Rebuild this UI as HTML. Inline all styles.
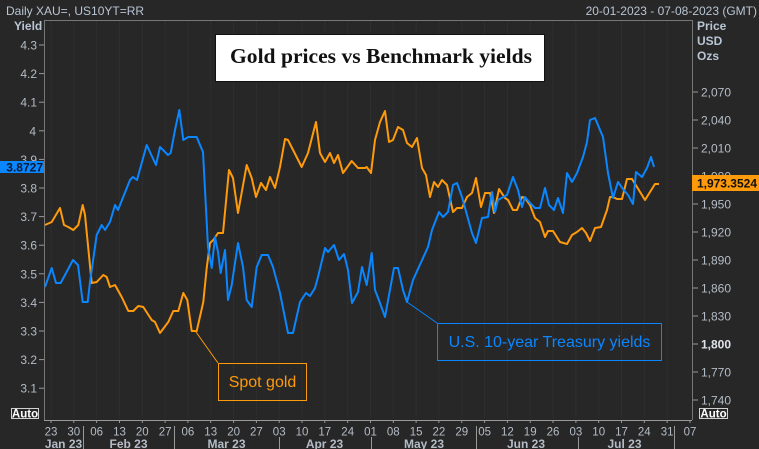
<!DOCTYPE html>
<html><head><meta charset="utf-8"><style>
html,body{margin:0;padding:0;background:#272727;}
svg{display:block;}
text{font-family:"Liberation Sans",Arial,sans-serif;}
</style></head><body>
<svg width="759" height="449" viewBox="0 0 759 449" xmlns="http://www.w3.org/2000/svg">
<rect x="0" y="0" width="759" height="449" fill="#272727"/>
<!-- weekly gridlines -->
<g stroke="#363636" stroke-width="1" stroke-dasharray="1,1">
<line x1="51" y1="21" x2="51" y2="419"/><line x1="73.8" y1="21" x2="73.8" y2="419"/><line x1="96.6" y1="21" x2="96.6" y2="419"/><line x1="119.5" y1="21" x2="119.5" y2="419"/><line x1="142.3" y1="21" x2="142.3" y2="419"/><line x1="165.1" y1="21" x2="165.1" y2="419"/><line x1="187.9" y1="21" x2="187.9" y2="419"/><line x1="210.7" y1="21" x2="210.7" y2="419"/><line x1="233.6" y1="21" x2="233.6" y2="419"/><line x1="256.4" y1="21" x2="256.4" y2="419"/><line x1="279.2" y1="21" x2="279.2" y2="419"/><line x1="302" y1="21" x2="302" y2="419"/><line x1="324.8" y1="21" x2="324.8" y2="419"/><line x1="347.7" y1="21" x2="347.7" y2="419"/><line x1="370.5" y1="21" x2="370.5" y2="419"/><line x1="393.3" y1="21" x2="393.3" y2="419"/><line x1="416.1" y1="21" x2="416.1" y2="419"/><line x1="438.9" y1="21" x2="438.9" y2="419"/><line x1="461.8" y1="21" x2="461.8" y2="419"/><line x1="484.6" y1="21" x2="484.6" y2="419"/><line x1="507.4" y1="21" x2="507.4" y2="419"/><line x1="530.2" y1="21" x2="530.2" y2="419"/><line x1="553" y1="21" x2="553" y2="419"/><line x1="575.9" y1="21" x2="575.9" y2="419"/><line x1="598.7" y1="21" x2="598.7" y2="419"/><line x1="621.5" y1="21" x2="621.5" y2="419"/><line x1="644.3" y1="21" x2="644.3" y2="419"/><line x1="667.1" y1="21" x2="667.1" y2="419"/>
</g>
<!-- frame -->
<g stroke="#777" stroke-width="1" fill="none">
<line x1="44" y1="20.5" x2="692" y2="20.5"/>
<line x1="44.5" y1="20" x2="44.5" y2="420"/>
<line x1="692.5" y1="20" x2="692.5" y2="420"/>
</g>
<line x1="44" y1="420.5" x2="692" y2="420.5" stroke="#999" stroke-width="1"/>

<!-- header -->
<text x="6" y="15" font-size="12" fill="#b9c5d4">Daily XAU=, US10YT=RR</text>
<text x="757" y="15" font-size="12" fill="#b9c5d4" text-anchor="end">20-01-2023 - 07-08-2023 (GMT)</text>
<text x="14" y="30" font-size="12" font-weight="bold" fill="#b9c5d4">Yield</text>
<text x="697" y="30" font-size="12" font-weight="bold" fill="#b9c5d4">Price</text>
<text x="697" y="45" font-size="12" font-weight="bold" fill="#b9c5d4">USD</text>
<text x="697" y="60" font-size="12" font-weight="bold" fill="#b9c5d4">Ozs</text>

<!-- left axis -->
<g stroke="#999" stroke-width="1">
<line x1="39" y1="45" x2="44" y2="45"/><line x1="39" y1="73.6" x2="44" y2="73.6"/><line x1="39" y1="102.2" x2="44" y2="102.2"/><line x1="39" y1="130.8" x2="44" y2="130.8"/><line x1="39" y1="159.4" x2="44" y2="159.4"/><line x1="39" y1="188" x2="44" y2="188"/><line x1="39" y1="216.6" x2="44" y2="216.6"/><line x1="39" y1="245.2" x2="44" y2="245.2"/><line x1="39" y1="273.8" x2="44" y2="273.8"/><line x1="39" y1="302.4" x2="44" y2="302.4"/><line x1="39" y1="331" x2="44" y2="331"/><line x1="39" y1="359.6" x2="44" y2="359.6"/><line x1="39" y1="388.2" x2="44" y2="388.2"/>
</g>
<g font-size="12" fill="#b4bcc6" text-anchor="end">
<text x="37" y="49.5">4.3</text><text x="37" y="78">4.2</text><text x="37" y="106.7">4.1</text><text x="36" y="135.3">4</text><text x="37" y="163.9">3.9</text><text x="37" y="192.5">3.8</text><text x="37" y="221.1">3.7</text><text x="37" y="249.7">3.6</text><text x="37" y="278.3">3.5</text><text x="37" y="306.9">3.4</text><text x="37" y="335.5">3.3</text><text x="37" y="364.1">3.2</text><text x="37" y="392.7">3.1</text>
</g>
<rect x="11.5" y="408.5" width="27" height="10" fill="#272727" stroke="#d0d0d0" stroke-width="1"/>
<text x="25" y="417.5" font-size="11.5" font-weight="bold" fill="#ffffff" text-anchor="middle">Auto</text>

<!-- right axis -->
<g stroke="#999" stroke-width="1">
<line x1="693" y1="92" x2="698" y2="92"/><line x1="693" y1="120" x2="698" y2="120"/><line x1="693" y1="148" x2="698" y2="148"/><line x1="693" y1="176" x2="698" y2="176"/><line x1="693" y1="204" x2="698" y2="204"/><line x1="693" y1="232" x2="698" y2="232"/><line x1="693" y1="260" x2="698" y2="260"/><line x1="693" y1="288" x2="698" y2="288"/><line x1="693" y1="316" x2="698" y2="316"/><line x1="693" y1="344" x2="698" y2="344"/><line x1="693" y1="372" x2="698" y2="372"/><line x1="693" y1="400" x2="698" y2="400"/>
</g>
<g font-size="12" fill="#b4bcc6">
<text x="701" y="96.5">2,070</text><text x="701" y="124.5">2,040</text><text x="701" y="152.5">2,010</text><text x="701" y="180.5">1,980</text><text x="701" y="208.5">1,950</text><text x="701" y="236.5">1,920</text><text x="701" y="264.5">1,890</text><text x="701" y="292.5">1,860</text><text x="701" y="320.5">1,830</text><text x="701" y="348.5" font-weight="bold" fill="#e0e4ea">1,800</text><text x="701" y="376.5">1,770</text><text x="701" y="404.5">1,740</text>
</g>
<rect x="699.5" y="408.5" width="28" height="10" fill="#272727" stroke="#d0d0d0" stroke-width="1"/>
<text x="713.5" y="417.5" font-size="11.5" font-weight="bold" fill="#ffffff" text-anchor="middle">Auto</text>

<!-- x axis ticks -->
<g stroke="#999" stroke-width="1">
<line x1="51" y1="420" x2="51" y2="423"/><line x1="73.8" y1="420" x2="73.8" y2="423"/><line x1="96.6" y1="420" x2="96.6" y2="423"/><line x1="119.5" y1="420" x2="119.5" y2="423"/><line x1="142.3" y1="420" x2="142.3" y2="423"/><line x1="165.1" y1="420" x2="165.1" y2="423"/><line x1="187.9" y1="420" x2="187.9" y2="423"/><line x1="210.7" y1="420" x2="210.7" y2="423"/><line x1="233.6" y1="420" x2="233.6" y2="423"/><line x1="256.4" y1="420" x2="256.4" y2="423"/><line x1="279.2" y1="420" x2="279.2" y2="423"/><line x1="302" y1="420" x2="302" y2="423"/><line x1="324.8" y1="420" x2="324.8" y2="423"/><line x1="347.7" y1="420" x2="347.7" y2="423"/><line x1="370.5" y1="420" x2="370.5" y2="423"/><line x1="393.3" y1="420" x2="393.3" y2="423"/><line x1="416.1" y1="420" x2="416.1" y2="423"/><line x1="438.9" y1="420" x2="438.9" y2="423"/><line x1="461.8" y1="420" x2="461.8" y2="423"/><line x1="484.6" y1="420" x2="484.6" y2="423"/><line x1="507.4" y1="420" x2="507.4" y2="423"/><line x1="530.2" y1="420" x2="530.2" y2="423"/><line x1="553" y1="420" x2="553" y2="423"/><line x1="575.9" y1="420" x2="575.9" y2="423"/><line x1="598.7" y1="420" x2="598.7" y2="423"/><line x1="621.5" y1="420" x2="621.5" y2="423"/><line x1="644.3" y1="420" x2="644.3" y2="423"/><line x1="667.1" y1="420" x2="667.1" y2="423"/><line x1="690" y1="420" x2="690" y2="423"/>
<line x1="83.5" y1="426" x2="83.5" y2="449"/><line x1="174.5" y1="426" x2="174.5" y2="449"/><line x1="279.5" y1="437" x2="279.5" y2="449"/><line x1="371.5" y1="437" x2="371.5" y2="449"/><line x1="476.5" y1="426" x2="476.5" y2="449"/><line x1="578.5" y1="437" x2="578.5" y2="449"/><line x1="674.5" y1="426" x2="674.5" y2="449"/>
</g>
<g font-size="11.5" fill="#b4bcc6" text-anchor="middle">
<text x="51" y="435.5">23</text><text x="73.8" y="435.5">30</text><text x="96.6" y="435.5">06</text><text x="119.5" y="435.5">13</text><text x="142.3" y="435.5">20</text><text x="165.1" y="435.5">27</text><text x="187.9" y="435.5">06</text><text x="210.7" y="435.5">13</text><text x="233.6" y="435.5">20</text><text x="256.4" y="435.5">27</text><text x="279.2" y="435.5">03</text><text x="302" y="435.5">10</text><text x="324.8" y="435.5">17</text><text x="347.7" y="435.5">24</text><text x="370.5" y="435.5">01</text><text x="393.3" y="435.5">08</text><text x="416.1" y="435.5">15</text><text x="438.9" y="435.5">22</text><text x="461.8" y="435.5">29</text><text x="484.6" y="435.5">05</text><text x="507.4" y="435.5">12</text><text x="530.2" y="435.5">19</text><text x="553" y="435.5">26</text><text x="575.9" y="435.5">03</text><text x="598.7" y="435.5">10</text><text x="621.5" y="435.5">17</text><text x="644.3" y="435.5">24</text><text x="667.1" y="435.5">31</text><text x="690" y="435.5">07</text>
</g>
<g font-size="12" font-weight="bold" fill="#b4bcc6" text-anchor="middle">
<text x="63.5" y="448">Jan 23</text><text x="128.5" y="448">Feb 23</text><text x="226.5" y="448">Mar 23</text><text x="324.5" y="448">Apr 23</text><text x="424" y="448">May 23</text><text x="526" y="448">Jun 23</text><text x="624.5" y="448">Jul 23</text>
</g>

<!-- series -->
<polyline fill="none" stroke="#ff9a0a" stroke-width="2" stroke-linejoin="round" points="45,225 51.7,222 60,208 64,225 68.3,227 73.3,230 78.3,225 82.7,205 85,215 91.7,283 96.7,282 103.3,275 106.7,277 110,287 115,285 121.7,297 128.3,311 133.3,311 138.3,306 143.3,307 151.7,320 155,322 160,333 168.3,322 173.3,311 178.3,311 183.3,293 187.3,300 191.7,331 196.7,331 203.3,302 206.7,268 210,243 213.3,240 218,233 223,233 229,170 233,178 238,213 246.7,165 251.7,178 256,197 261,183 266,190 270,177 275,188 280,167 285,139 288,140 301.7,167 308,153 316,122 320,153 325,162 330,153 334,163 338,155 343,173 351.7,161 358,168 365,168 366.7,167 371,173 375,140 380,122 385,111 389,142 393,140 398,127 403,130 407,143 412,147 417,138 422,168 426,175 430,197 434,182 438,187 442,180 447,185 453,212 457,208 462,208 467,197 472,193 476,178 481,207 485,193 490,193 494,213 499,189 505,198 508,200 513,210 517,210 522,197 525,198 530,205 535,218 540,222 545,237 548,231 553,231 560,242 567,244 572,235 577,232 582,228 586,233 590,241 595,228 601,227 607,210 610,197 613,197 617,199 622,199 627,179 632,179 637,187 645,200 655,184 659,184"/>
<polyline fill="none" stroke="#0a86ff" stroke-width="2" stroke-linejoin="round" points="45,287 51.7,268 56,283 60.7,283 73,260 78,265 82.7,302 87.7,302 90,282 96.7,235 101.7,225 105,230 110,222 115,205 118,210 130,180 133,177 137,180 146.7,145 156,165 160,147 168,155 170.7,153 175,130 179.3,110 183.3,140 188.3,137 196.7,137 200,145 203,152 206.7,222 208,247 211.7,268 215,237 218,252 220.7,273 225,250 228,300 231.7,285 238,243 243,267 246.7,300 251.7,307 256.7,267 261.7,255 268,255 273,267 280,293 288,333 293,333 300,302 306,293 310,296 315,288 318,277 325,248 328,252 334,245 339,260 344,254 348,270 352,303 358,292 362,267 366.7,285 371.7,253 375,290 380,303 385,317 394,268 398,268 403,290 407,302 413,280 428,247 432,230 439,212 443,217 448,212 453,185 457,183 462,197 467,215 472,233 476,243 482,218 488,217 492,192 495,212 498,200 507,195 513,177 518,190 522,207 525,197 530,203 535,208 540,208 545,188 549,205 554,210 558,198 563,213 567,173 572,182 577,173 583,157 587,142 590,120 595,118 603,137 608,173 613,198 618,182 623,189 628,195 633,204 636,172 642,177 647,168 651,157 654,167"/>

<!-- annotations -->
<line x1="196" y1="332" x2="218" y2="363" stroke="#ff9a0a" stroke-width="1"/>
<rect x="218.5" y="363.5" width="88" height="37" fill="none" stroke="#ff9a0a" stroke-width="1"/>
<text x="262.5" y="387" font-size="16" fill="#ff9a0a" text-anchor="middle">Spot gold</text>
<line x1="407" y1="302" x2="437" y2="323" stroke="#0a86ff" stroke-width="1"/>
<rect x="437.5" y="323.5" width="224" height="37" fill="none" stroke="#0a86ff" stroke-width="1"/>
<text x="549.5" y="347" font-size="16" fill="#0a86ff" text-anchor="middle">U.S. 10-year Treasury yields</text>

<!-- title -->
<rect x="215.5" y="34.5" width="329" height="47" fill="#ffffff" stroke="#111" stroke-width="1"/>
<text x="381" y="63" style="font-family:'Liberation Serif','Times New Roman',serif;font-size:21.5px;font-weight:bold;" fill="#111" text-anchor="middle" textLength="302" lengthAdjust="spacingAndGlyphs">Gold prices vs Benchmark yields</text>

<!-- value labels -->
<rect x="0" y="161" width="44" height="12" fill="#0a86ff"/>
<text x="43" y="171.5" font-size="12" font-weight="bold" fill="#0a1a30" text-anchor="end">3.8727</text>
<rect x="692" y="175" width="67" height="16" fill="#ff9a0a"/>
<text x="757" y="187.5" font-size="12" font-weight="bold" fill="#111" text-anchor="end">1,973.3524</text>
</svg>
</body></html>
